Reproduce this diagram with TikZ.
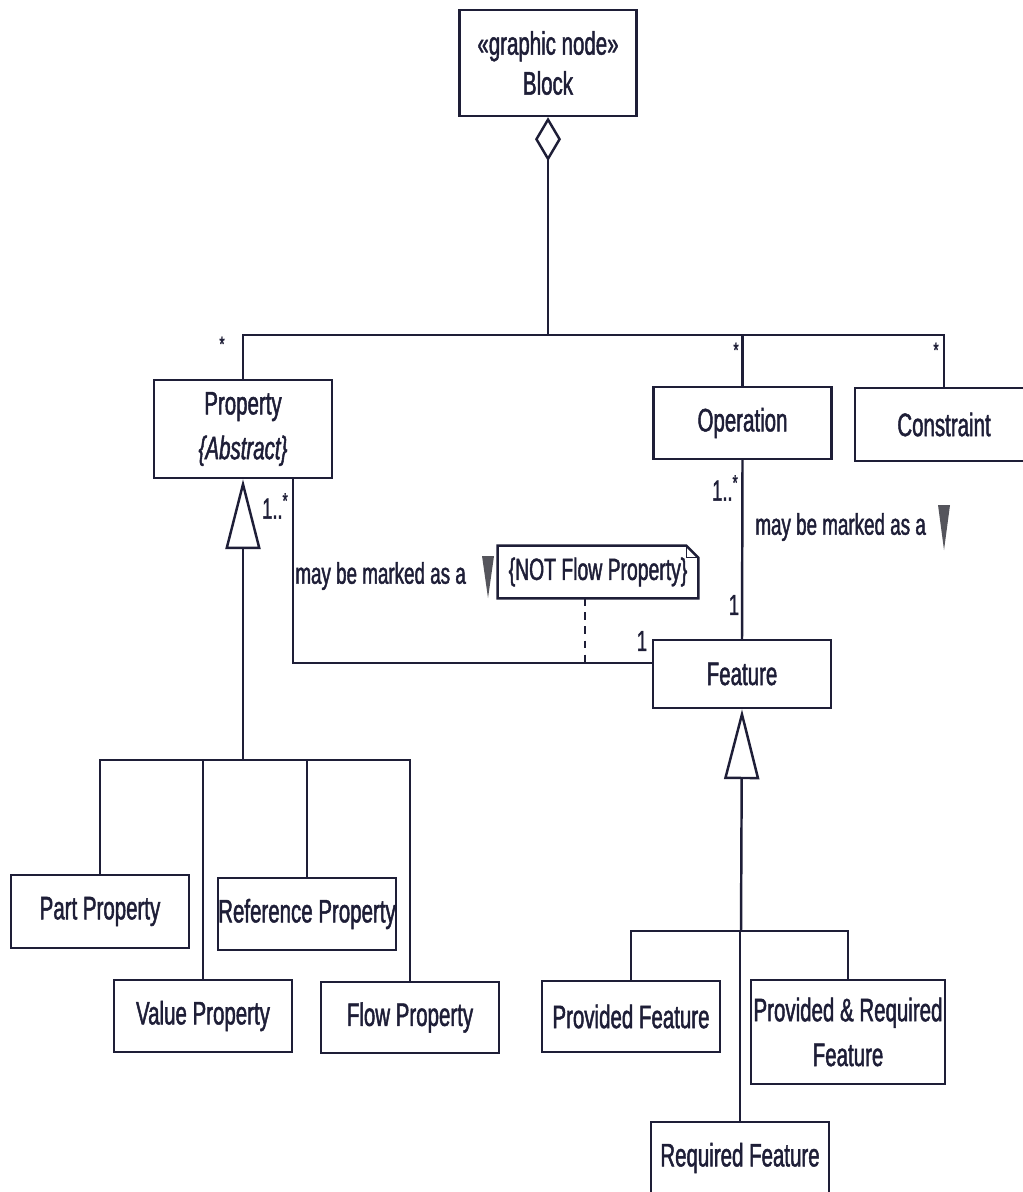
\documentclass[tikz,border=0pt]{standalone}
\usepackage{fontspec}
\setmainfont{Liberation Sans}[FakeStretch=0.63, FakeBold=1.4]
\usetikzlibrary{arrows.meta}
\definecolor{ink}{RGB}{30,30,55}
\definecolor{markgray}{RGB}{85,85,92}
\begin{document}
\begin{tikzpicture}[x=0.02cm,y=-0.02cm,
  cls/.style={draw=ink, line width=1.4pt, fill=white, text=ink,
    minimum width=3.56cm, minimum height=1.44cm, inner sep=0pt,
    align=center, font=\fontsize{18.5}{25.5}\selectfont},
  lbl/.style={text=ink, inner sep=0pt, font=\fontsize{17}{19}\selectfont},
  mult/.style={text=ink, inner sep=0pt, font=\fontsize{16.5}{18}\selectfont},
  star/.style={text=ink, inner sep=0pt, font=\fontsize{12}{13}\selectfont},
  link/.style={draw=ink, line width=1.4pt},
  gen/.style={link, {Triangle[open, width=0.7cm, length=1.4cm]}-},
  agg/.style={link, {Diamond[open, width=0.52cm, length=0.88cm]}-},
]
\fill[white] (0,0) rectangle (1023,1192);
\useasboundingbox (0,0) rectangle (1023,1192);

% classes
\node[cls, minimum width=3.54cm, minimum height=2.12cm,
      font=\fontsize{18.5}{22.7}\selectfont] (block) at (548,63) {«graphic node»\\Block};
\node[cls, minimum height=1.96cm] (prop) at (243,429) {Property\\\textit{\{Abstract\}}};
\node[cls] (oper) at (742.5,423) {Operation};
\node[cls, minimum height=1.46cm] (cons) at (944,424.5) {Constraint};
\node[cls, minimum height=1.36cm] (feat) at (742,674) {Feature};

\node[cls, minimum height=1.46cm] (part) at (100,911.5) {Part Property};
\node[cls] (ref) at (307,914) {Reference Property};
\node[cls] (val) at (203,1016) {Value Property};
\node[cls, minimum height=1.42cm] (flow) at (410,1017.5) {Flow Property};

\node[cls, minimum height=1.42cm] (pf) at (631,1016.5) {Provided Feature};
\node[cls, minimum width=3.88cm, minimum height=2.08cm] (prf) at (848,1032) {Provided \& Required\\Feature};
\node[cls] (rf) at (740,1158) {Required Feature};

% constraint note
\node[text=ink, inner sep=0pt, minimum width=4cm, minimum height=1.04cm,
      font=\fontsize{17.5}{19}\selectfont] (note) at (598,572) {\{NOT Flow Property\}};
\draw[link] (note.south west) -- (note.north west) -- ([xshift=-0.24cm]note.north east)
  -- ([yshift=-0.24cm]note.north east) -- (note.south east) -- cycle;
\draw[draw=ink, line width=0.6pt] ([xshift=-0.24cm]note.north east)
  -- ([xshift=-0.24cm,yshift=-0.24cm]note.north east) -- ([yshift=-0.24cm]note.north east);

% junction points
\coordinate (top) at (548,335);
\coordinate (pbus) at (243,760);
\coordinate (fbus) at (741,931);
\coordinate (assoc) at (293,663);
\coordinate (nd) at (585,663);

% composition of the block
\draw[agg] (block.south) -- (top);
\draw[link] (prop.north) |- (cons.north |- top) -- (cons.north);
\draw[link] (oper.north) -- (oper.north |- top);

% property specialisations
\draw[gen] (prop.south) -- (pbus);
\draw[link] (part.north) |- (flow.north |- pbus) -- (flow.north);
\draw[link] (val.north) -- (val.north |- pbus);
\draw[link] (ref.north) -- (ref.north |- pbus);

% feature specialisations
\draw[gen] (feat.south) -- (fbus);
\draw[link] (pf.north) |- (prf.north |- fbus) -- (prf.north);
\draw[link] (rf.north) -- (rf.north |- fbus);

% feature associations
\draw[link] (prop.south -| assoc) -- (assoc) -- (feat.west |- assoc);
\draw[draw=ink, line width=1.4pt, dash pattern=on 4.5pt off 3.5pt] (note.south -| nd) -- (nd);
\draw[link] (oper.south) -- (feat.north);

% multiplicities
\node[star] (s1) at (222,344) {*};
\node[star] (s2) at (736,350) {*};
\node[star] (s3) at (936,350) {*};
\node[mult] (m1) at (275,506) {1..\raisebox{0.7ex}{\fontsize{12}{13}\selectfont *}};
\node[mult] (m2) at (725,488) {1..\raisebox{0.7ex}{\fontsize{12}{13}\selectfont *}};
\node[mult] (m3) at (734,605) {1};
\node[mult] (m4) at (642,641) {1};

% association labels
\node[lbl, anchor=west] (t1) at (295,576) {may be marked as a};
\node[lbl, anchor=west] (t2) at (755,527) {may be marked as a};
\fill[markgray] (482,556) -- (494,556) -- (488,598) -- cycle;
\fill[markgray] (938,505) -- (950,505) -- (944,550) -- cycle;
\end{tikzpicture}
\end{document}
